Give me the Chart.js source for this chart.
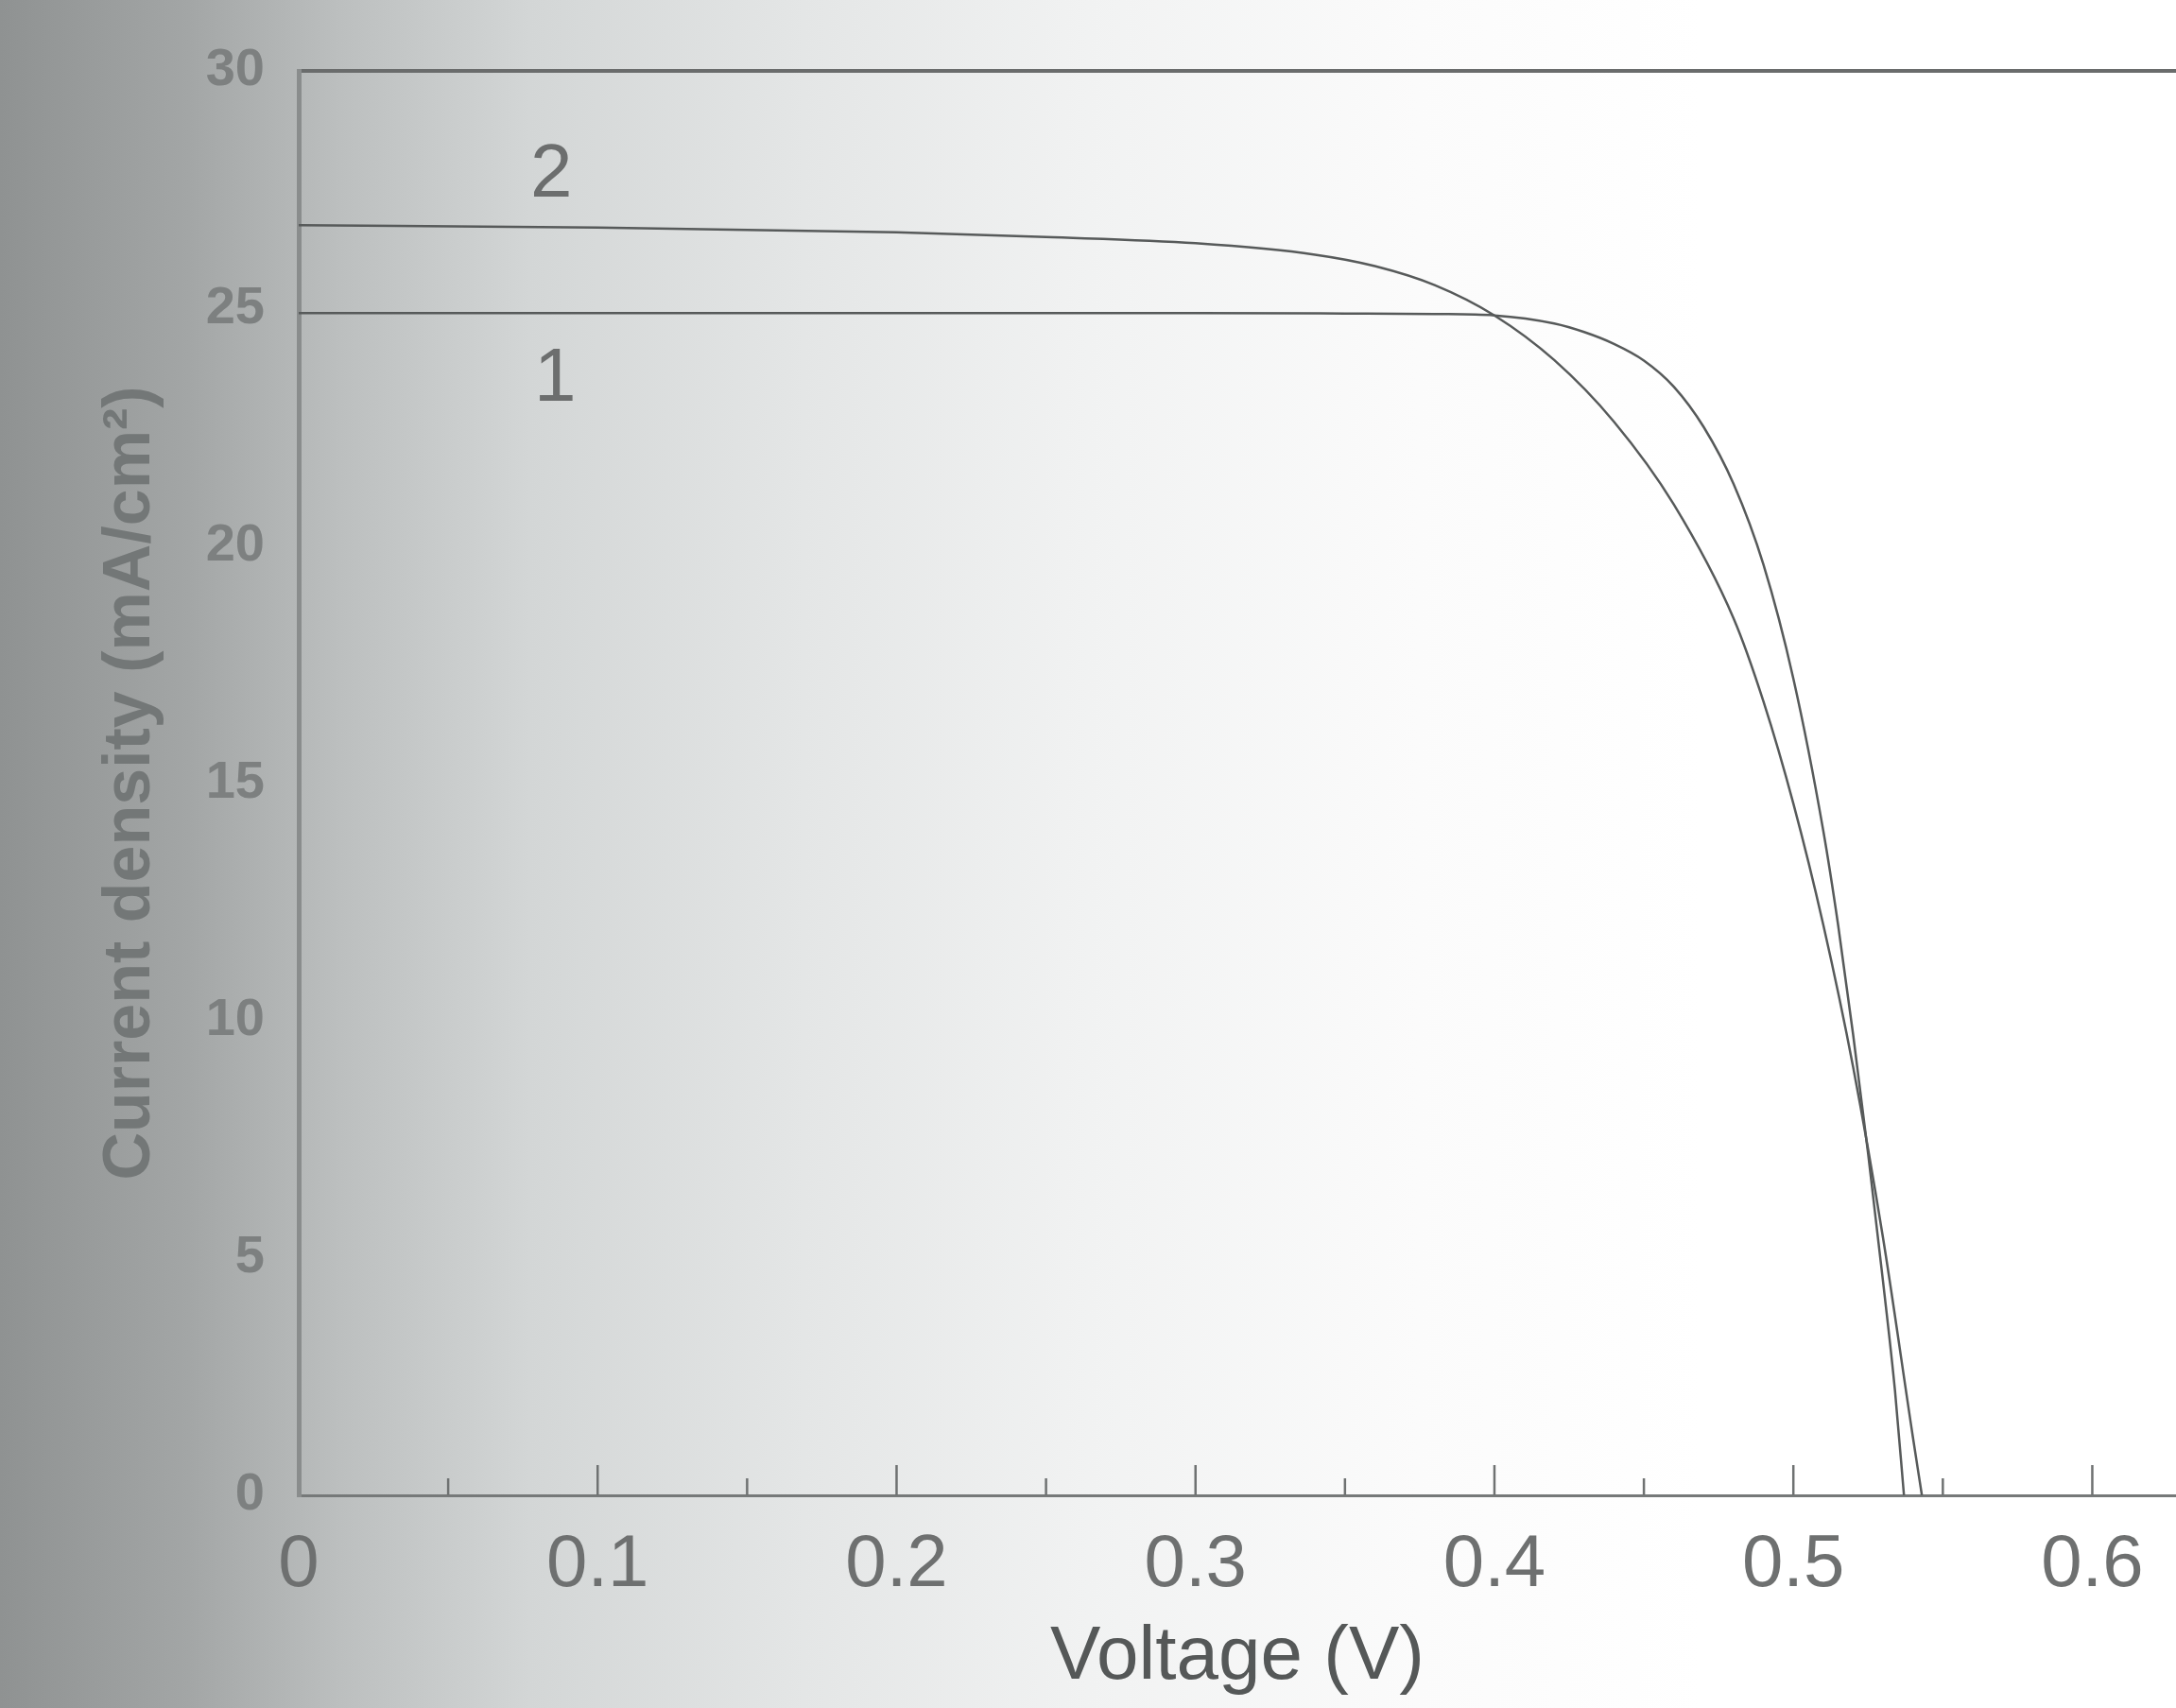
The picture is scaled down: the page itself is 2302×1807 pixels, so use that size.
<!DOCTYPE html>
<html>
<head>
<meta charset="utf-8">
<script src="https://cdn.jsdelivr.net/npm/chart.js@4.4.1/dist/chart.umd.min.js"></script>
<style>
  html, body { margin: 0; padding: 0; }
  body {
    width: 2302px; height: 1807px; overflow: hidden;
    background: linear-gradient(to right, #8f9292 0px, #a3a6a6 200px, #bcbfbf 360px, #d3d6d6 560px, #e4e6e6 850px, #f1f2f2 1150px, #fbfbfb 1500px, #ffffff 1800px);
  }
  #wrap { position: absolute; left: 0; top: 0; width: 2302px; height: 1807px; }
</style>
</head>
<body>
<div id="wrap"><canvas id="ivChart"></canvas></div>
<script>
// ---------------- I-V data ----------------
const voltage1 = [0, 0.1, 0.2, 0.3, 0.35, 0.38, 0.4, 0.42, 0.43, 0.44, 0.45, 0.46, 0.47, 0.48, 0.49, 0.5, 0.51, 0.515, 0.52, 0.525, 0.53, 0.534, 0.537];
const current1 = [24.9, 24.9, 24.9, 24.9, 24.89, 24.88, 24.85, 24.68, 24.5, 24.25, 23.9, 23.35, 22.5, 21.3, 19.6, 17.2, 14.0, 12.0, 9.7, 7.2, 4.5, 2.2, 0];

const voltage2 = [0, 0.1, 0.2, 0.25, 0.3, 0.34, 0.36, 0.38, 0.4, 0.42, 0.44, 0.46, 0.48, 0.49, 0.5, 0.51, 0.52, 0.53, 0.54, 0.543];
const current2 = [26.75, 26.7, 26.6, 26.5, 26.37, 26.13, 25.89, 25.49, 24.85, 23.91, 22.61, 20.87, 18.47, 16.72, 14.57, 12.02, 9.02, 5.42, 1.22, 0];

const xTicks = [0, 0.1, 0.2, 0.3, 0.4, 0.5, 0.6];
const xMinorTicks = [0.05, 0.15, 0.25, 0.35, 0.45, 0.55];
const yTicks = [0, 5, 10, 15, 20, 25, 30];

const curveLabels = ['1', '2'];
const curveLabelV = [0.0858, 0.0845];
const curveLabelI = [23.5, 27.8];

const toPoints = (xs, ys) => xs.map((x, i) => ({ x: x, y: ys[i] }));

// inward tick marks on the voltage axis + curve numbers
const extras = {
    id: 'extras',
    afterDraw(chart) {
        const ctx = chart.ctx;
        const x = chart.scales.x, y = chart.scales.y;
        const base = chart.chartArea.bottom;
        ctx.save();
        ctx.strokeStyle = '#6f7272';
        ctx.lineWidth = 2.5;
        xTicks.forEach(v => {
            if (v === 0) return;
            const px = x.getPixelForValue(v);
            ctx.beginPath(); ctx.moveTo(px, base); ctx.lineTo(px, base - 32); ctx.stroke();
        });
        xMinorTicks.forEach(v => {
            const px = x.getPixelForValue(v);
            ctx.beginPath(); ctx.moveTo(px, base); ctx.lineTo(px, base - 18); ctx.stroke();
        });
        ctx.fillStyle = '#6c6e6e';
        ctx.font = '80px "Liberation Sans", Arial, sans-serif';
        ctx.textAlign = 'center';
        ctx.textBaseline = 'middle';
        curveLabels.forEach((t, i) => {
            ctx.fillText(t, x.getPixelForValue(curveLabelV[i]), y.getPixelForValue(curveLabelI[i]));
        });
        ctx.restore();
    }
};

const ctx = document.getElementById('ivChart').getContext('2d');
new Chart(ctx, {
    type: 'line',
    data: {
        datasets: [
            { label: '1', data: toPoints(voltage1, current1), borderColor: '#575a5a', borderWidth: 2.5,
              pointRadius: 0, fill: false, cubicInterpolationMode: 'monotone' },
            { label: '2', data: toPoints(voltage2, current2), borderColor: '#575a5a', borderWidth: 2.5,
              pointRadius: 0, fill: false, cubicInterpolationMode: 'monotone' }
        ]
    },
    options: {
        responsive: true,
        maintainAspectRatio: false,
        animation: false,
        layout: { padding: { left: 0, top: 75, right: 0, bottom: 0 } },
        plugins: { legend: { display: false }, tooltip: { enabled: false } },
        scales: {
            x: {
                type: 'linear',
                min: 0, max: 0.628,
                afterBuildTicks: axis => { axis.ticks = xTicks.map(v => ({ value: v })); },
                afterFit: axis => { axis.height = 225; },
                grid: { display: false, drawTicks: false },
                border: { display: true, color: '#767979', width: 3 },
                ticks: {
                    padding: 28,
                    color: '#6e7070',
                    font: { family: '"Liberation Sans", Arial, sans-serif', size: 78 },
                    maxRotation: 0,
                    callback: v => v === 0 ? '0' : v.toFixed(1)
                },
                title: {
                    display: true,
                    text: 'Voltage (V)',
                    color: '#555858',
                    font: { family: '"Liberation Sans", Arial, sans-serif', size: 80 },
                    padding: { top: 0, bottom: 5 }
                }
            },
            y: {
                min: 0, max: 30,
                afterBuildTicks: axis => { axis.ticks = yTicks.map(v => ({ value: v })); },
                afterFit: axis => { axis.width = 316; },
                grid: {
                    drawTicks: false,
                    color: c => c.tick && c.tick.value === 30 ? '#6a6c6c' : 'transparent',
                    lineWidth: 4
                },
                border: { display: true, color: '#8a8d8d', width: 5 },
                ticks: {
                    padding: 36,
                    color: '#7d8080',
                    font: { family: '"Liberation Sans", Arial, sans-serif', size: 56, weight: 'bold' }
                },
                title: {
                    display: true,
                    text: 'Current density (mA/cm²)',
                    color: '#737777',
                    font: { family: '"Liberation Sans", Arial, sans-serif', size: 70, weight: 'bold' },
                    padding: { top: 97, bottom: 0 }
                }
            }
        }
    },
    plugins: [extras]
});
</script>
</body>
</html>
